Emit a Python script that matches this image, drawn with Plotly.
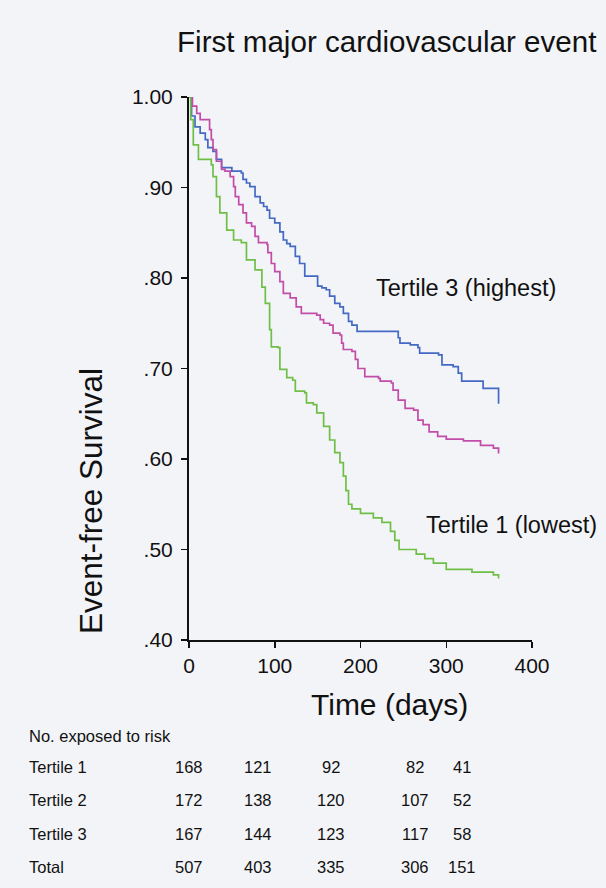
import plotly.graph_objects as go

# ---------------- data ----------------
t3_time = [0, 3, 7, 13, 19, 22, 28, 32, 38, 50, 61, 63, 67, 71, 77, 83, 87, 91, 94, 100, 106, 110, 114, 118,
           124, 129, 135, 150, 155, 160, 164, 170, 176, 180, 186, 190, 196, 244, 246, 258, 267, 269, 291, 295,
           308, 314, 318, 343, 361]
t3_surv = [1.0, 0.979, 0.967, 0.960, 0.953, 0.944, 0.940, 0.931, 0.922, 0.918, 0.916, 0.909, 0.905, 0.901,
           0.890, 0.883, 0.879, 0.875, 0.866, 0.861, 0.851, 0.842, 0.838, 0.835, 0.824, 0.816, 0.802, 0.791,
           0.789, 0.787, 0.780, 0.772, 0.768, 0.761, 0.752, 0.748, 0.741, 0.734, 0.728, 0.726, 0.723, 0.717,
           0.715, 0.704, 0.702, 0.695, 0.686, 0.678, 0.661]

t2_time = [0, 4, 9, 13, 24, 26, 28, 32, 38, 42, 48, 52, 54, 58, 63, 67, 73, 77, 81, 91, 92, 96, 100, 106, 110,
           118, 125, 131, 149, 153, 157, 164, 168, 176, 178, 180, 190, 194, 197, 205, 221, 223, 236, 238, 244,
           252, 262, 267, 273, 280, 290, 300, 320, 340, 355, 361]
t2_surv = [1.0, 0.99, 0.982, 0.975, 0.964, 0.953, 0.942, 0.929, 0.920, 0.918, 0.912, 0.901, 0.890, 0.881, 0.872,
           0.861, 0.857, 0.846, 0.839, 0.837, 0.828, 0.816, 0.807, 0.796, 0.783, 0.778, 0.768, 0.761, 0.759,
           0.754, 0.750, 0.748, 0.739, 0.737, 0.728, 0.721, 0.719, 0.710, 0.700, 0.691, 0.689, 0.686, 0.684,
           0.676, 0.665, 0.656, 0.654, 0.643, 0.638, 0.630, 0.625, 0.622, 0.620, 0.615, 0.612, 0.606]

t1_time = [0, 2, 5, 11, 26, 28, 32, 36, 44, 52, 61, 67, 77, 85, 89, 94, 96, 104, 106, 114, 121, 124, 135, 137,
           145, 149, 157, 164, 170, 176, 180, 183, 186, 190, 200, 215, 225, 235, 240, 245, 265, 275, 285, 300,
           330, 355, 361]
t1_surv = [1.0, 0.975, 0.947, 0.931, 0.925, 0.912, 0.890, 0.872, 0.853, 0.842, 0.839, 0.820, 0.809, 0.790,
           0.772, 0.743, 0.724, 0.723, 0.699, 0.690, 0.687, 0.675, 0.673, 0.662, 0.660, 0.651, 0.636, 0.621,
           0.607, 0.596, 0.581, 0.565, 0.550, 0.545, 0.540, 0.535, 0.530, 0.520, 0.510, 0.500, 0.495, 0.490,
           0.485, 0.478, 0.475, 0.472, 0.468]

x_ticks = [0, 100, 200, 300, 400]
y_ticks = [0.4, 0.5, 0.6, 0.7, 0.8, 0.9, 1.0]
y_ticktext = [".40", ".50", ".60", ".70", ".80", ".90", "1.00"]

risk_header = "No. exposed to risk"
risk_rows = ["Tertile 1", "Tertile 2", "Tertile 3", "Total"]
risk_tertile1 = [168, 121, 92, 82, 41]
risk_tertile2 = [172, 138, 120, 107, 52]
risk_tertile3 = [167, 144, 123, 117, 58]
risk_total = [507, 403, 335, 306, 151]

# ---------------- layout helpers ----------------
W, H = 606, 888
L, R, T, B = 189, 74, 97, 248
PW, PH = W - L - R, H - T - B


def px(x):
    return (x - L) / PW


def py(y):
    return (H - B - y) / PH


BG = "#f3f4f8"
FONT = "Liberation Sans, Arial, Helvetica, sans-serif"

fig = go.Figure()
series = [
    (t3_time, t3_surv, "#4469c4", "Tertile 3 (highest)"),
    (t2_time, t2_surv, "#c24ca8", "Tertile 2"),
    (t1_time, t1_surv, "#6fbf47", "Tertile 1 (lowest)"),
]
for tt, ss, col, nm in series:
    fig.add_trace(go.Scatter(x=tt, y=ss, mode="lines", line=dict(color=col, width=1.7, shape="hv"),
                             name=nm, showlegend=False, hoverinfo="skip"))

ann = []
ann.append(dict(text="First major cardiovascular event", x=px(175), y=py(42), xanchor="left", yanchor="middle",
                font=dict(size=29.6, color="#111")))
ann.append(dict(text="Time (days)", x=px(389), y=py(704), xanchor="center", yanchor="middle",
                font=dict(size=30, color="#111")))
ann.append(dict(text="Event-free Survival", x=px(91), y=py(501), xanchor="center", yanchor="middle",
                textangle=-90, font=dict(size=31.5, color="#111")))
ann.append(dict(text="Tertile 3 (highest)", x=px(374), y=py(288), xanchor="left", yanchor="middle",
                font=dict(size=23.5, color="#111")))
ann.append(dict(text="Tertile 1 (lowest)", x=px(424), y=py(525), xanchor="left", yanchor="middle",
                font=dict(size=23.5, color="#111")))

# risk table
TF = 16.5
col_px = [189, 258, 331, 415, 462]
row_py = [767, 800, 834, 867]
ann.append(dict(text=risk_header, x=px(27), y=py(736), xanchor="left", yanchor="middle",
                font=dict(size=TF, color="#111")))
for name, vals, ry in zip(risk_rows, [risk_tertile1, risk_tertile2, risk_tertile3, risk_total], row_py):
    ann.append(dict(text=name, x=px(27), y=py(ry), xanchor="left", yanchor="middle",
                    font=dict(size=TF, color="#111")))
    for v, cx in zip(vals, col_px):
        ann.append(dict(text=str(v), x=px(cx), y=py(ry), xanchor="center", yanchor="middle",
                        font=dict(size=TF, color="#111")))

for a in ann:
    a.update(xref="paper", yref="paper", showarrow=False)

fig.update_layout(
    width=W, height=H, autosize=False,
    margin=dict(l=L, r=R, t=T, b=B, pad=0),
    paper_bgcolor=BG, plot_bgcolor=BG,
    font=dict(family=FONT, color="#111"),
    annotations=ann,
    hovermode=False,
    xaxis=dict(range=[0, 400], tickvals=x_ticks, showgrid=False, zeroline=False,
               showline=True, linecolor="#111", linewidth=2, ticks="outside", ticklen=6,
               tickwidth=1.5, tickcolor="#111", tickfont=dict(size=21, color="#111"),
               ticklabelstandoff=0),
    yaxis=dict(range=[0.4, 1.0], tickvals=y_ticks, ticktext=y_ticktext, showgrid=False,
               zeroline=False, showline=True, linecolor="#111", linewidth=2, ticks="outside",
               ticklen=6, tickwidth=1.5, tickcolor="#111", tickfont=dict(size=21, color="#111"),
               ticklabelstandoff=4),
)

page_fix = ("document.body.style.margin='0';document.body.style.padding='0';"
            "document.body.style.overflow='hidden';"
            "document.body.style.background='" + BG + "';"
            "document.documentElement.style.background='" + BG + "';")

fig.write_html("out.html", post_script=page_fix, config={"displayModeBar": False, "staticPlot": True})
